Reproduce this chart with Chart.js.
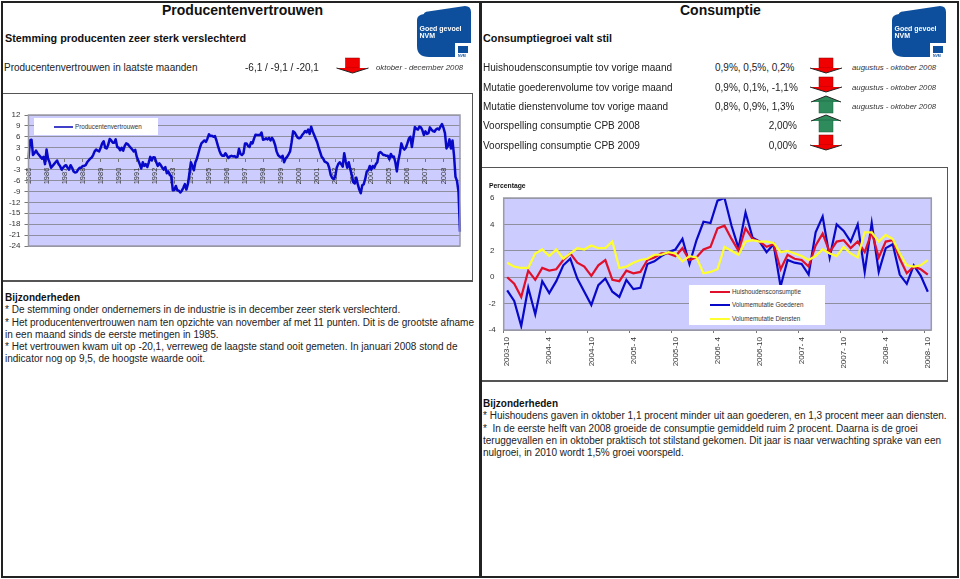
<!DOCTYPE html>
<html>
<head>
<meta charset="utf-8">
<title>Producentenvertrouwen en Consumptie</title>
<script src="https://cdn.jsdelivr.net/npm/chart.js@4/dist/chart.umd.min.js"></script>
<style>
html, body { margin: 0; padding: 0; background: #fff; }
#page { position: relative; width: 960px; height: 579px; overflow: hidden; font-family: "Liberation Sans", Arial, sans-serif; color: #222; }
.ln { position: absolute; background: #222; }
.ln2 { position: absolute; background: #555; }
.t { position: absolute; white-space: nowrap; font-size: 10px; line-height: 14px; }
.b { font-weight: bold; color: #111; }
.h1 { font-size: 14px; line-height: 18px; }
.h2 { font-size: 10.8px; line-height: 16px; }
.i { font-style: italic; font-size: 7.8px; color: #333; }
.r { text-align: right; }
canvas { position: absolute; }
.leg { position: absolute; background: #fff; font-size: 6.3px; color: #333; }
.leg i { position: absolute; height: 2px; }
.leg span { position: absolute; white-space: nowrap; line-height: 10px; }
svg { position: absolute; left: 0; top: 0; }
</style>
</head>
<body>
<div id="page">
  <canvas id="chartProd" style="left:3px;top:95px" width="468" height="185"></canvas>
  <canvas id="chartCons" style="left:483px;top:168px" width="463" height="212"></canvas>

  <div class="ln" style="left:1px;top:1px;width:958px;height:2px"></div>
  <div class="ln" style="left:1px;top:576px;width:958px;height:2px"></div>
  <div class="ln" style="left:1px;top:1px;width:2px;height:577px"></div>
  <div class="ln" style="left:957px;top:1px;width:2px;height:577px"></div>
  <div class="ln" style="left:479px;top:1px;width:3px;height:577px"></div>
  <div class="ln2" style="left:3px;top:93px;width:470px;height:1px"></div>
  <div class="ln2" style="left:3px;top:280px;width:470px;height:2px"></div>
  <div class="ln2" style="left:472px;top:93px;width:1px;height:188px"></div>
  <div class="ln2" style="left:482px;top:167px;width:466px;height:1px"></div>
  <div class="ln2" style="left:482px;top:380px;width:466px;height:2px"></div>
  <div class="ln2" style="left:947px;top:167px;width:1px;height:215px"></div>

  <div class="t b h1" style="left:162px;top:1px">Producentenvertrouwen</div>
  <div class="t b h1" style="left:680px;top:1px">Consumptie</div>
  <div class="t b h2" style="left:5px;top:30px">Stemming producenten zeer sterk verslechterd</div>
  <div class="t b h2" style="left:483px;top:30px">Consumptiegroei valt stil</div>

  <div class="t" style="left:4px;top:61px">Producentenvertrouwen in laatste maanden</div>
  <div class="t" style="left:245px;top:61px">-6,1 / -9,1 / -20,1</div>
  <div class="t i" style="left:376px;top:61px">oktober - december 2008</div>

  <div class="t" style="left:483px;top:61px">Huishoudensconsumptie tov vorige maand</div>
  <div class="t" style="left:483px;top:81px">Mutatie goederenvolume tov vorige maand</div>
  <div class="t" style="left:483px;top:100px">Mutatie dienstenvolume tov vorige maand</div>
  <div class="t" style="left:483px;top:119px">Voorspelling consumptie CPB 2008</div>
  <div class="t" style="left:483px;top:139px">Voorspelling consumptie CPB 2009</div>
  <div class="t" style="left:715px;top:61px">0,9%, 0,5%, 0,2%</div>
  <div class="t" style="left:715px;top:81px">0,9%, 0,1%, -1,1%</div>
  <div class="t" style="left:715px;top:100px">0,8%, 0,9%, 1,3%</div>
  <div class="t r" style="left:737px;width:60px;top:119px">2,00%</div>
  <div class="t r" style="left:737px;width:60px;top:139px">0,00%</div>
  <div class="t i" style="left:852px;top:61px">augustus - oktober 2008</div>
  <div class="t i" style="left:852px;top:81px">augustus - oktober 2008</div>
  <div class="t i" style="left:852px;top:100px">augustus - oktober 2008</div>

  <div class="t b" style="left:5px;top:291px">Bijzonderheden</div>
  <div class="t" style="left:5px;top:303px">* De stemming onder ondernemers in de industrie is in december zeer sterk verslechterd.</div>
  <div class="t" style="left:5px;top:316px">* Het producentenvertrouwen nam ten opzichte van november af met 11 punten. Dit is de grootste afname</div>
  <div class="t" style="left:5px;top:328px">in een maand sinds de eerste metingen in 1985.</div>
  <div class="t" style="left:5px;top:340px">* Het vertrouwen kwam uit op -20,1, verreweg de laagste stand ooit gemeten. In januari 2008 stond de</div>
  <div class="t" style="left:5px;top:352px">indicator nog op 9,5, de hoogste waarde ooit.</div>

  <div class="t b" style="left:483px;top:397px">Bijzonderheden</div>
  <div class="t" style="left:483px;top:409px">* Huishoudens gaven in oktober 1,1 procent minder uit aan goederen, en 1,3 procent meer aan diensten.</div>
  <div class="t" style="left:483px;top:422px">*&nbsp; In de eerste helft van 2008 groeide de consumptie gemiddeld ruim 2 procent. Daarna is de groei</div>
  <div class="t" style="left:483px;top:434px">teruggevallen en in oktober praktisch tot stilstand gekomen. Dit jaar is naar verwachting sprake van een</div>
  <div class="t" style="left:483px;top:446px">nulgroei, in 2010 wordt 1,5% groei voorspeld.</div>

  <div class="t b" style="left:489px;top:179px;font-size:6.8px">Percentage</div>

  <div class="leg" id="legProd" style="left:34px;top:118px;width:124px;height:17px"></div>
  <div class="leg" id="legCons" style="left:689px;top:285px;width:136px;height:40px"></div>

  <svg id="deco" width="960" height="579"></svg>
</div>

<script>
// producentenvertrouwen, maandcijfers per jaar
var prod1985 = [0, 5, 5.2, 1, 1.5, 2.2, 1.5, 1, 0.5, 0, 0.5, -1.5];
var prod1986 = [2.5, 0, -1, -2.5, -2, -1.5, -1, -0.5, -1.5, -2, -3, -2.5];
var prod1987 = [-2, -1.8, -2.5, -3, -1.8, -2.5, -3.5, -3.8, -3.7, -3, -2.5, -2.5];
var prod1988 = [-2, -2, -1.8, -1, -0.5, 0, 0.3, 1, 2, 2.5, 2.2, 2];
var prod1989 = [3, 4.2, 4.8, 3, 2.8, 3.8, 5.4, 5, 4.4, 4.4, 5.3, 3.2];
var prod1990 = [3, 2.3, 3, 2.2, 3.5, 4.2, 4, 3.5, 3, 2.5, 2, 2.4];
var prod1991 = [0.5, -0.5, -1.5, -2.7, -1, -2, -1.5, -2.3, -1, 0.5, -0.5, 0.4];
var prod1992 = [0.3, -1, -2, -1.3, -1.8, -2.5, -3, -2.3, -4, -3.5, -4.5, -4.8];
var prod1993 = [-8.7, -8.6, -7.5, -8.7, -8.8, -9.3, -8.8, -8, -7, -8.5, -7, -4.2];
var prod1994 = [-1, -2, -3.2, -1, 0, 1.5, 3, 4.2, 4.6, 5, 4.6, 5.5];
var prod1995 = [6.7, 6.2, 6.3, 6, 6.2, 5, 3.5, 2.2, 1.2, 0.8, 0.8, 1.5];
var prod1996 = [0.8, 0.2, 0.6, 0.8, 0.6, 0.7, 0.4, 0.5, 2.7, 1.3, 1, 1.5];
var prod1997 = [4.2, 4.2, 3.5, 3.2, 4.5, 4.2, 5.5, 6.6, 6.5, 6.5, 6.5, 7.2];
var prod1998 = [5.2, 5.3, 5.6, 5.3, 5.7, 5, 5.7, 5, 3.8, 2, 1, 0.6];
var prod1999 = [0.3, 0.8, -1, 0, 0.5, 1.2, 2, 4.5, 7.5, 7.2, 6.5, 5.8];
var prod2000 = [5.6, 5.8, 6.5, 7, 7.6, 7.2, 8, 6.8, 8.8, 7.5, 6.5, 5.5];
var prod2001 = [4.5, 3, 1.8, 0.5, 0, -0.8, -1, -1.3, -2.5, -4.5, -5.3, -5.6];
var prod2002 = [-5, -2.5, -1.5, -1, -1.5, -2.2, 1.5, -0.8, -2.5, -1, -2.8, -4.5];
var prod2003 = [-6.5, -6.8, -5.2, -7, -8.5, -9.5, -7.3, -7, -5.5, -3.5, -3.2, -2];
var prod2004 = [-3, -2, -2.5, -1.5, -1, 1.5, 1.8, 1.5, 1, 1, 0.8, 0.8];
var prod2005 = [-0.2, 1.3, 0.5, 0.6, -1, -3.5, -0.5, 1.5, 4.2, 3, 2.5, 3];
var prod2006 = [4.2, 5.5, 6, 3.2, 6, 8.7, 8.2, 8, 8.8, 8.6, 7.8, 6.5];
var prod2007 = [7.5, 6.8, 7, 8.6, 8, 7.6, 7.4, 8, 8.3, 8, 8.8, 9.5];
var prod2008 = [8.5, 7, 2.8, 3.5, 5.3, 2.8, 5, 1, -5, -6.1, -9.1, -20.1];
var yearLabels = ["1985", "1986", "1987", "1988", "1989", "1990", "1991", "1992", "1993", "1994", "1995", "1996",
  "1997", "1998", "1999", "2000", "2001", "2002", "2003", "2004", "2005", "2006", "2007", "2008"];

// consumptie, 2003-10 t/m 2008-10
var huishoudens = [0, -0.5, -1.5, 0.5, -0.2, 0.7, 0.5, 0.6, 1.3, 1.8, 1.1, 0.8, 0.1, 0.9, 1.3, -0.2, -0.3, 0.5, 0.3, 0.4,
  1.3, 1.5, 1.8, 1.8, 1.6, 2.2, 1.3, 1.5, 2.1, 2.3, 3.7, 3.9, 2.9, 2.0, 3.7, 2.9, 2.7, 2.3, 2.5, 0.6,
  1.7, 1.4, 1.3, 0.8, 2.4, 3.3, 1.9, 2.7, 2.8, 2.2, 2.7, 1.9, 3.4, 1.5, 2.7, 2.8, 1.4, 0.3, 0.8, 0.6, 0.2];
var goederen = [-1, -1.8, -3.7, -0.8, -2.8, -0.3, -1.2, -0.3, 0.9, 1.4, -0.1, -1.1, -2.1, -0.6, -0.1, -1.1, -1.5, -0.2, -0.9, -0.8,
  1, 1.2, 1.6, 1.9, 2.1, 2.9, 1, 2.8, 4.2, 4.1, 5.8, 6, 3.9, 2.2, 4.9, 3, 2.7, 1.9, 2.5, -0.7,
  1.3, 1.1, 1, 0.2, 3.4, 4.6, 1.5, 4, 3.5, 2.7, 4, 0.4, 4.1, 0.4, 2.2, 2.5, 0.2, -0.5, 0.9, 0.1, -1.1];
var diensten = [1.1, 0.8, 0.7, 0.7, 1.8, 2.1, 1.6, 2.1, 1.4, 1.8, 2.2, 2.1, 2.4, 2.2, 2.2, 2.7, 0.7, 0.8, 1.1, 1.3,
  1.4, 1.7, 1.7, 1.9, 1.8, 1.2, 1.6, 1.5, 0.3, 0.4, 0.6, 2.3, 2, 1.7, 2.7, 2.8, 2.7, 2.7, 2.6, 1.9,
  2, 1.8, 1.6, 1.3, 1.6, 2.1, 1.8, 1.6, 2.3, 1.8, 1.5, 3.4, 3.4, 2.7, 3.2, 2.9, 1.8, 0.9, 0.8, 0.9, 1.3];
var consTicks = ["2003-10", "2004- 4", "2004-10", "2005- 4", "2005-10", "2006- 4", "2006-10", "2007- 4", "2007- 10", "2008- 4", "2008- 10"];

var prodName = "Producentenvertrouwen";
var consNames = ["Huishoudensconsumptie", "Volumemutatie Goederen", "Volumemutatie Diensten"];
var consColors = ["#e0102a", "#0808c8", "#ffff30"];

var prodData = [].concat(prod1985, prod1986, prod1987, prod1988, prod1989, prod1990, prod1991, prod1992,
  prod1993, prod1994, prod1995, prod1996, prod1997, prod1998, prod1999, prod2000,
  prod2001, prod2002, prod2003, prod2004, prod2005, prod2006, prod2007, prod2008);

// labels: alleen elke 12e / 6e categorie krijgt tekst
var prodLabels = prodData.map(function (v, i) { return i % 12 == 0 ? yearLabels[i / 12] : ""; });
var consLabels = huishoudens.map(function (v, i) { return i % 6 == 0 ? consTicks[i / 6] : ""; });

var plotBg = {
  id: "plotBg",
  beforeDraw: function (chart) {
    var a = chart.chartArea, c = chart.ctx;
    c.save();
    c.fillStyle = "#ccccff";
    c.fillRect(a.left, a.top, a.width, a.height);
    c.restore();
  },
  afterDraw: function (chart) {
    var a = chart.chartArea, c = chart.ctx;
    c.save();
    c.strokeStyle = "#9a9aa8";
    c.lineWidth = 1.5;
    c.strokeRect(a.left, a.top, a.width, a.height);
    c.restore();
  }
};

var gridCol = "#8e8e9e";
var textCol = "#333333";

new Chart("chartProd", {
  type: "line",
  plugins: [plotBg],
  data: {
    labels: prodLabels,
    datasets: [{ label: prodName, data: prodData, borderColor: "#0808c8", borderWidth: 2.5, pointRadius: 0, tension: 0, borderJoinStyle: "round" }]
  },
  options: {
    responsive: false,
    animation: false,
    layout: { padding: { left: 0, top: 20, right: 11, bottom: 34 } },
    plugins: { legend: { display: false }, tooltip: { enabled: false } },
    scales: {
      x: {
        position: { y: 0 },
        offset: false,
        afterFit: function (s) { s.paddingLeft = 0; s.paddingRight = 0; },
        border: { display: true, color: gridCol },
        grid: {
          drawOnChartArea: false,
          tickLength: 3,
          tickColor: function (ctx) { return ctx.index % 12 == 0 ? "#777" : "transparent"; }
        },
        ticks: { autoSkip: false, minRotation: 90, maxRotation: 90, padding: 6, color: textCol, font: { size: 7.5 } }
      },
      y: {
        min: -24, max: 12,
        afterFit: function (s) { s.width = 25.5; },
        border: { display: false },
        grid: { color: gridCol, tickLength: 4, tickColor: "#777" },
        ticks: { stepSize: 3, autoSkip: false, padding: 4, color: textCol, font: { size: 8 } }
      }
    }
  }
});

new Chart("chartCons", {
  type: "line",
  plugins: [plotBg],
  data: {
    labels: consLabels,
    datasets: [
      { label: consNames[2], data: diensten, borderColor: consColors[2], order: 0 },
      { label: consNames[0], data: huishoudens, borderColor: consColors[0], order: 1 },
      { label: consNames[1], data: goederen, borderColor: consColors[1], order: 2 }
    ].map(function (d) { d.borderWidth = 2.2; d.pointRadius = 0; d.tension = 0; return d; })
  },
  options: {
    responsive: false,
    animation: false,
    layout: { padding: { left: 0, top: 30, right: 14.7, bottom: 0 } },
    plugins: { legend: { display: false }, tooltip: { enabled: false } },
    scales: {
      x: {
        offset: true,
        afterFit: function (s) { s.height = 50; },
        border: { display: false },
        grid: {
          offset: true,
          drawOnChartArea: false,
          tickLength: 3,
          tickColor: function (ctx) { return ctx.index % 6 == 0 ? "#777" : "transparent"; }
        },
        ticks: { autoSkip: false, minRotation: 90, maxRotation: 90, padding: 4, color: textCol, font: { size: 8 } }
      },
      y: {
        min: -4, max: 6,
        afterFit: function (s) { s.width = 20.7; },
        border: { display: false },
        grid: { color: gridCol, drawTicks: false },
        ticks: { stepSize: 2, autoSkip: false, padding: 8, crossAlign: "center", color: textCol, font: { size: 8 } }
      }
    }
  }
});

// legenda's boven de grafiek, zoals in het origineel
function legendRow(box, name, color, lineX, lineW, textX, y) {
  var l = document.createElement("i");
  l.style.cssText = "left:" + lineX + "px;width:" + lineW + "px;top:" + y + "px;background:" + color;
  box.appendChild(l);
  var s = document.createElement("span");
  s.style.cssText = "left:" + textX + "px;top:" + (y - 4) + "px";
  s.textContent = name;
  box.appendChild(s);
}
legendRow(document.getElementById("legProd"), prodName, "#4040c8", 20, 19, 41, 8);
var legCons = document.getElementById("legCons");
legendRow(legCons, consNames[0], consColors[0], 21, 20, 43, 6);
legendRow(legCons, consNames[1], consColors[1], 21, 20, 43, 19);
legendRow(legCons, consNames[2], consColors[2], 21, 20, 43, 33);

// pijlen en logo's
function arrowDown(cx, top) {
  return '<rect x="' + (cx - 7) + '" y="' + top + '" width="14" height="10" fill="#f00000" stroke="#800" stroke-width="0.5"/>' +
    '<polygon points="' + (cx - 16) + ',' + (top + 10) + ' ' + (cx + 16) + ',' + (top + 10) + ' ' + cx + ',' + (top + 15) + '" fill="#f00000"/>' +
    '<polyline points="' + (cx - 16) + ',' + (top + 10) + ' ' + cx + ',' + (top + 15) + ' ' + (cx + 16) + ',' + (top + 10) + '" fill="none" stroke="#222" stroke-width="1"/>';
}
function arrowUp(cx, top) {
  return '<polygon points="' + (cx - 15) + ',' + (top + 6) + ' ' + (cx + 15) + ',' + (top + 6) + ' ' + cx + ',' + top + '" fill="#2e8b5c"/>' +
    '<polyline points="' + (cx - 15) + ',' + (top + 6) + ' ' + cx + ',' + top + ' ' + (cx + 15) + ',' + (top + 6) + '" fill="none" stroke="#222" stroke-width="1"/>' +
    '<rect x="' + (cx - 7) + '" y="' + (top + 5) + '" width="14" height="12" fill="#2e8b5c" stroke="#1a5c3a" stroke-width="0.5"/>';
}
function logo(x, y) {
  var p = "M" + (x + 7) + " " + (y + 8) + " Q" + (x + 7) + " " + (y + 6) + " " + (x + 11) + " " + (y + 5.5) +
    " L" + (x + 48) + " " + y + " Q" + (x + 54) + " " + y + " " + (x + 54) + " " + (y + 6) +
    " L" + (x + 54) + " " + (y + 37) + " L" + (x + 38) + " " + (y + 37) + " L" + (x + 38) + " " + (y + 51) +
    " L" + (x + 12) + " " + (y + 51) + " Q" + x + " " + (y + 51) + " " + x + " " + (y + 40) + " L" + x + " " + (y + 14) +
    " Q" + x + " " + (y + 9) + " " + (x + 7) + " " + (y + 8) + " Z";
  return '<path d="' + p + '" fill="#0d4f9c"/>' +
    '<text x="' + (x + 2.5) + '" y="' + (y + 25) + '" fill="#fff" font-size="7" font-weight="bold">Goed gevoel</text>' +
    '<text x="' + (x + 2.5) + '" y="' + (y + 32) + '" fill="#fff" font-size="7" font-weight="bold">NVM</text>' +
    '<rect x="' + (x + 41) + '" y="' + (y + 40) + '" width="10" height="7" fill="#0d4f9c"/>' +
    '<text x="' + (x + 41) + '" y="' + (y + 50.5) + '" fill="#0d4f9c" font-size="3.5" font-weight="bold">NVM</text>';
}
document.getElementById("deco").innerHTML =
  arrowDown(352.5, 58) + arrowDown(826, 58) + arrowDown(826, 77) + arrowUp(826, 96) + arrowUp(826, 115) + arrowDown(826, 135) +
  logo(417, 6) + logo(892, 6);
</script>
</body>
</html>
